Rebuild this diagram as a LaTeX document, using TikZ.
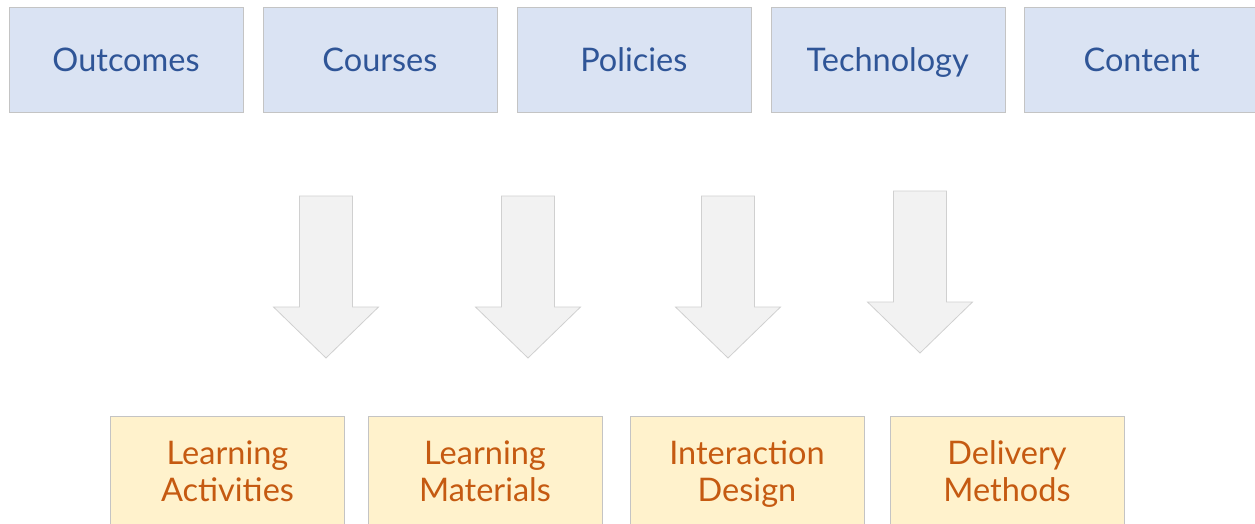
\documentclass[tikz,border=0pt]{standalone}
\usepackage{fontspec}
\setmainfont{Lato}
\usepackage{xcolor}
\usepackage{tikz}
\usetikzlibrary{positioning}

\definecolor{azulclaro}{HTML}{DAE3F3}
\definecolor{azultexto}{HTML}{2F5597}
\definecolor{amareloclaro}{HTML}{FFF2CC}
\definecolor{laranja}{HTML}{C55A11}
\definecolor{cinzaseta}{HTML}{F2F2F2}
\definecolor{cinzaborda}{HTML}{C4C4C4}

\begin{document}
\begin{tikzpicture}[
		    x=1pt, y=-1pt,
		    every node/.style={draw=cinzaborda, rectangle, minimum width=234pt, minimum height=105pt, inner sep=0pt, align=center,
		      font=\fontsize{32.5}{37}\selectfont,
		      execute at begin node={\rule{0pt}{31pt}}, execute at end node={\rule[-7.7pt]{0pt}{7.7pt}}}
		]
		\tikzset{
		    azul/.style={fill=azulclaro, text=azultexto},
		    amarelo/.style={fill=amareloclaro, text=laranja, minimum height=108pt, execute at begin node={\rule{0pt}{70pt}}},
		    seta/.style={fill=cinzaseta, draw=cinzaborda!80, line width=0.8pt, line join=miter}
		}
		\useasboundingbox (0,0) rectangle (1255,524);
		\node[azul] (outcomes) at (126,59.5) {Outcomes};
		\node[azul, right=19.5pt of outcomes] (courses) {Courses};
		\node[azul, right=19.5pt of courses] (policies) {Policies};
		\node[azul, right=19.5pt of policies] (technology) {Technology};
		\node[azul, right=19.5pt of technology] (content) {Content};
		\foreach \x/\y in {326/358, 528/358, 728/358, 920/353}
		  \draw[seta] (\x-26.5,\y-162) -- (\x+26.5,\y-162) -- (\x+26.5,\y-51) -- (\x+52.5,\y-51)
		    -- (\x,\y) -- (\x-52.5,\y-51) -- (\x-26.5,\y-51) -- cycle;
		\node[amarelo] (activities) at (227.5,470) {Learning\\Activities};
		\node[amarelo] (materials) at (485,470) {Learning\\Materials};
		\node[amarelo] (interaction) at (747,470) {Interaction\\Design};
		\node[amarelo] (delivery) at (1007,470) {Delivery\\Methods};
		\end{tikzpicture}
\end{document}
